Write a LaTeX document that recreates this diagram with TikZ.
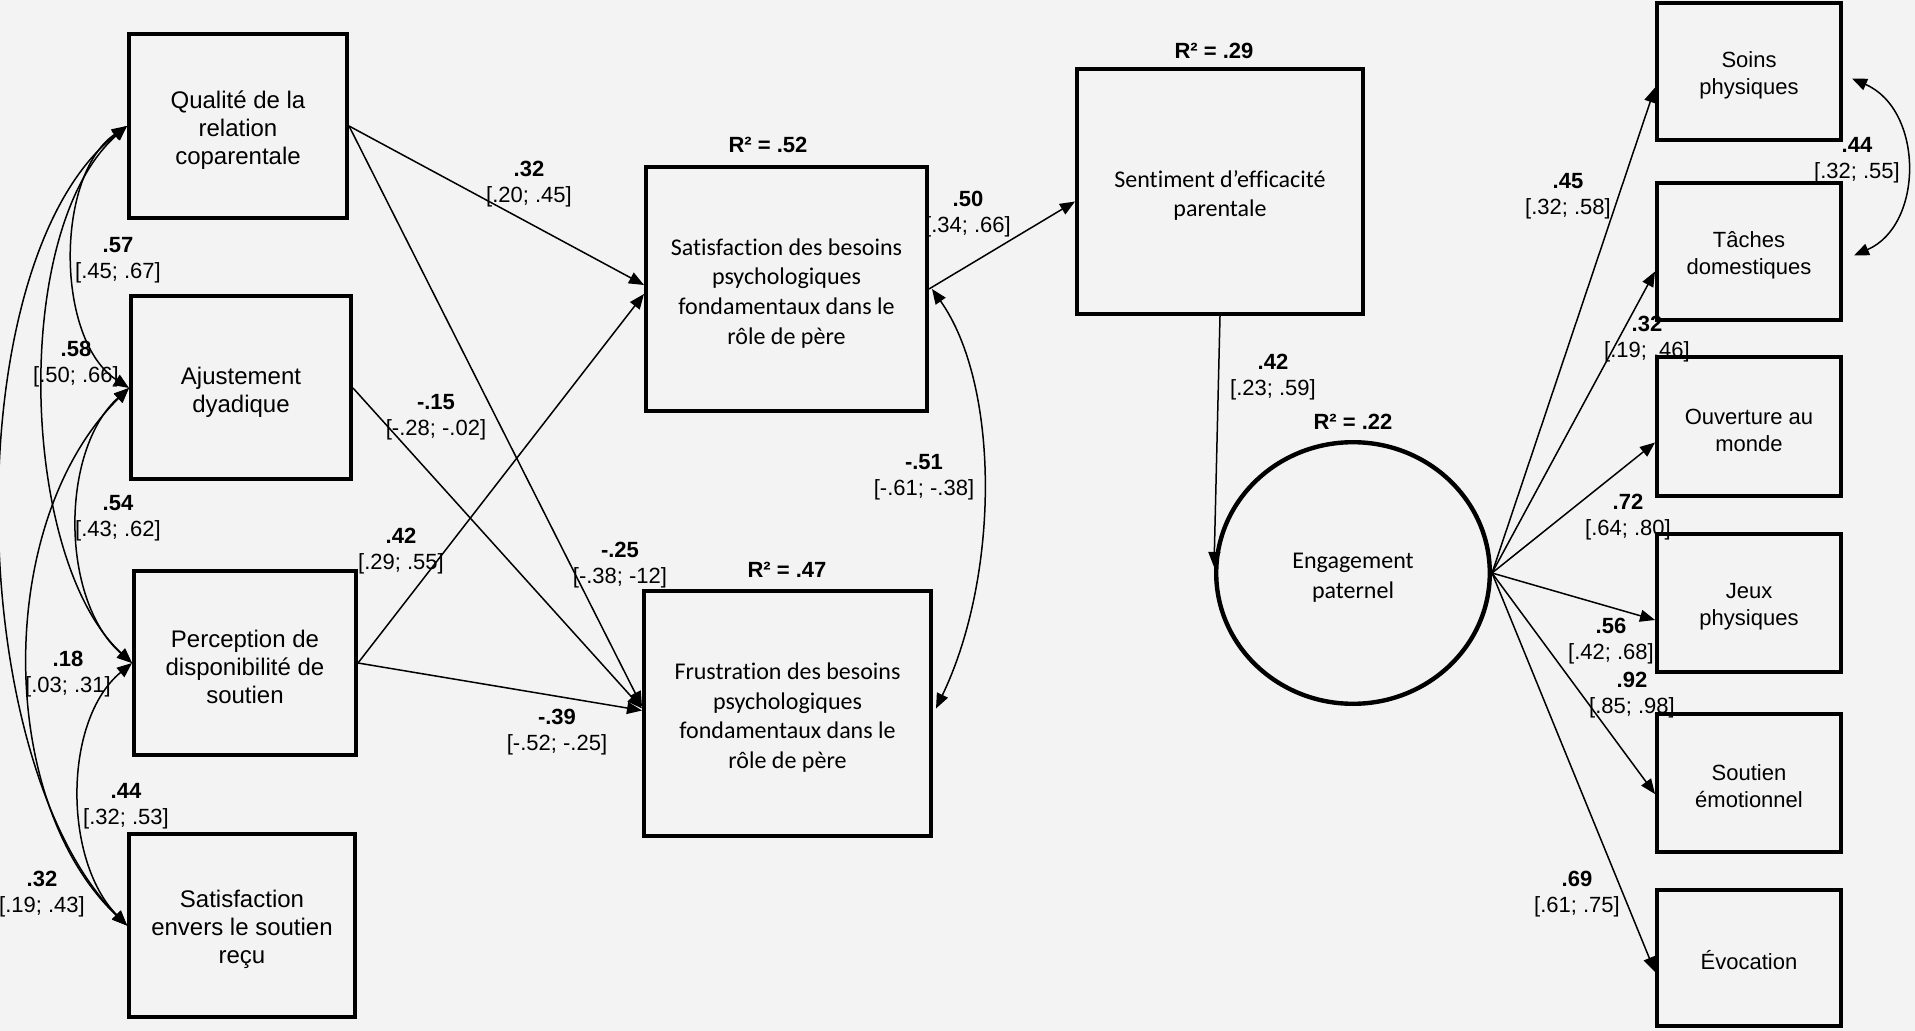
\documentclass[tikz,border=0pt]{standalone}
\usepackage{fontspec}
\setmainfont{Liberation Sans}
\newfontfamily\calib[Ligatures=NoCommon]{Carlito}
\usetikzlibrary{arrows.meta,shapes.geometric,calc}
\definecolor{bgc}{HTML}{F3F3F3}
\newcommand{\cilab}[2]{\textbf{#1}\\{[}#2]}
\newcommand{\tst}{\rule{0pt}{1.05em}}
\begin{document}
\begin{tikzpicture}[x=0.5pt,y=-0.5pt,
  box/.style={draw, line width=2pt, inner sep=0pt, align=center, font=\fontsize{12pt}{14pt}\selectfont},
  cbox/.style={box, font=\calib\fontsize{12pt}{14.8pt}\selectfont},
  rbox/.style={box, font=\fontsize{11pt}{13.5pt}\selectfont, minimum width=92pt},
  lbl/.style={align=center, inner sep=0pt, font=\fontsize{11pt}{13pt}\selectfont},
  rsq/.style={inner sep=0pt, font=\bfseries\fontsize{11pt}{13pt}\selectfont},
  arr/.style={line width=0.75pt, -{Triangle[length=7.5pt,width=6pt]}},
  dbl/.style={line width=0.75pt, {Triangle[length=7.5pt,width=6pt]}-{Triangle[length=7.5pt,width=6pt]}}]
\fill[bgc] (0,0) rectangle (1915,1031);
\useasboundingbox (0,0) rectangle (1915,1031);

% left exogenous boxes
\node[box, minimum width=109pt, minimum height=92pt] (Q) at (238,126) {\tst Qualité de la\\relation\\coparentale};
\node[box, minimum width=110pt, minimum height=91.5pt] (A) at (241,388) {\tst Ajustement\\dyadique};
\node[box, minimum width=111pt, minimum height=92pt] (P) at (245,663) {\tst Perception de\\disponibilité de\\soutien};
\node[box, minimum width=113pt, minimum height=91.5pt] (S) at (242,925.5) {\tst Satisfaction\\envers le soutien\\reçu};

% mediators
\node[cbox, minimum width=140.5pt, minimum height=122pt] (SB) at (786.5,289) {\tst Satisfaction des besoins\\psychologiques\\fondamentaux dans le\\rôle de père};
\node[cbox, minimum width=143.5pt, minimum height=122.5pt] (FB) at (787.5,713.5) {\tst Frustration des besoins\\psychologiques\\fondamentaux dans le\\rôle de père};
\node[cbox, minimum width=143pt, minimum height=122.5pt] (SE) at (1220,191.5) {\tst Sentiment d’efficacité\\parentale};
\node[draw, ellipse, line width=2.2pt, minimum width=136.8pt, minimum height=130.8pt, inner sep=0pt, align=center, font=\calib\fontsize{12pt}{14.8pt}\selectfont] (EN) at (1353,573) {\tst Engagement\\paternel};

% indicators
\node[rbox, minimum height=68.5pt] (SP) at (1749,71.5) {\tst Soins\\physiques};
\node[rbox, minimum height=68.5pt] (TD) at (1749,251.5) {\tst Tâches\\domestiques};
\node[rbox, minimum height=69.5pt] (OM) at (1749,426.5) {\tst Ouverture au\\monde};
\node[rbox, minimum height=69pt] (JP) at (1749,603) {\tst Jeux\\physiques};
\node[rbox, minimum height=69pt] (SM) at (1749,783) {\tst Soutien\\émotionnel};
\node[rbox, minimum height=68pt] (EV) at (1749,958) {\tst Évocation};

% R2 labels
\node[rsq] (r1) at (768,145) {R² = .52};
\node[rsq] (r2) at (787,570) {R² = .47};
\node[rsq] (r3) at (1214,51) {R² = .29};
\node[rsq] (r4) at (1353,422) {R² = .22};

% covariances among exogenous variables
\draw[dbl] (Q.west) .. controls (55,175) and (55,340) .. (A.west);
\draw[dbl] (Q.west) .. controls (10,230) and (20,560) .. (P.west);
\draw[dbl] (Q.west) .. controls (-44,260) and (-38,760) .. (S.west);
\draw[dbl] (A.west) .. controls (60,450) and (60,600) .. (P.west);
\draw[dbl] (A.west) .. controls (-5,520) and (-5,800) .. (S.west);
\draw[dbl] (P.west) .. controls (63,720) and (63,860) .. (S.west);

% paths
\draw[arr] (Q.east) -- ($(SB.west)+(0,-4)$);
\draw[arr] (Q.east) -- ($(FB.west)+(0,-7)$);
\draw[arr] (A.east) -- ($(FB.west)+(0,-5)$);
\draw[arr] (P.east) -- ($(SB.west)+(0,5)$);
\draw[arr] (P.east) -- ($(FB.west)+(0,-3)$);
\draw[arr] (SB.east) -- ($(SE.west)+(0,10)$);
\draw[dbl] ($(SB.east)+(3,0)$) .. controls (1000,385) and (1000,575) .. ($(FB.east)+(3,-5)$);
\draw[arr] (SE.south) -- ($(EN.west)+(0,-6)$);

% loadings
\draw[arr] (EN.east) -- ($(SP.west)+(0,16)$);
\draw[arr] (EN.east) -- ($(TD.west)+(0,20)$);
\draw[arr] (EN.east) -- ($(OM.west)+(0,16)$);
\draw[arr] (EN.east) -- ($(JP.west)+(0,17)$);
\draw[arr] (EN.east) -- ($(SM.west)+(0,11)$);
\draw[arr] (EN.east) -- ($(EV.west)+(0,14)$);
\draw[dbl] ($(SP.east)+(9,7)$) .. controls (1924,110) and (1924,225) .. ($(TD.east)+(11,4)$);

% coefficient labels
\node[lbl] (l1) at (529,184) {\cilab{.32}{.20; .45}};
\node[lbl] (l2) at (620,565) {\cilab{-.25}{-.38; -12}};
\node[lbl] (l3) at (436,417) {\cilab{-.15}{-.28; -.02}};
\node[lbl] (l4) at (401,551) {\cilab{.42}{.29; .55}};
\node[lbl] (l5) at (557,732) {\cilab{-.39}{-.52; -.25}};
\node[lbl] (l6) at (968,214) {\cilab{.50}{.34; .66}};
\node[lbl] (l7) at (924,477) {\cilab{-.51}{-.61; -.38}};
\node[lbl] (l8) at (1273,377) {\cilab{.42}{.23; .59}};
\node[lbl] (l9) at (1568,196) {\cilab{.45}{.32; .58}};
\node[lbl] (l10) at (1647,339) {\cilab{.32}{.19; .46}};
\node[lbl] (l11) at (1628,517) {\cilab{.72}{.64; .80}};
\node[lbl] (l12) at (1611,641) {\cilab{.56}{.42; .68}};
\node[lbl] (l13) at (1632,695) {\cilab{.92}{.85; .98}};
\node[lbl] (l14) at (1577,894) {\cilab{.69}{.61; .75}};
\node[lbl] (l15) at (1857,160) {\cilab{.44}{.32; .55}};
\node[lbl] (l16) at (118,260) {\cilab{.57}{.45; .67}};
\node[lbl] (l17) at (76,364) {\cilab{.58}{.50; .66}};
\node[lbl] (l18) at (118,518) {\cilab{.54}{.43; .62}};
\node[lbl] (l19) at (68,674) {\cilab{.18}{.03; .31}};
\node[lbl] (l20) at (126,806) {\cilab{.44}{.32; .53}};
\node[lbl] (l21) at (42,894) {\cilab{.32}{.19; .43}};
\end{tikzpicture}
\end{document}
